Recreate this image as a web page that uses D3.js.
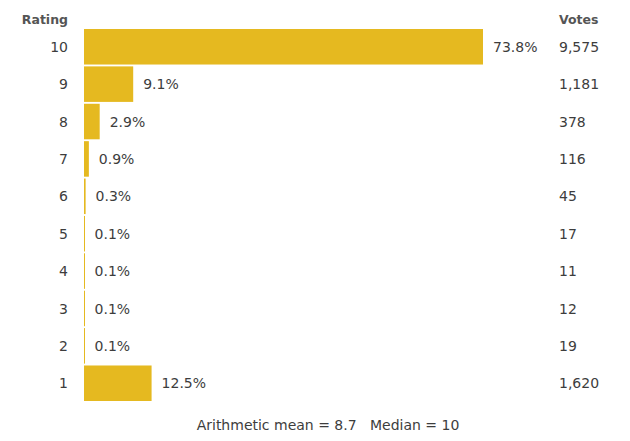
<!DOCTYPE html>
<html><head><meta charset="utf-8">
<script src="https://cdn.jsdelivr.net/npm/d3@7"></script>
<style>body{margin:0;background:#fff}svg{display:block}</style>
</head><body>
<svg id="c" width="630" height="441"></svg>
<script>
const ratings = ["10","9","8","7","6","5","4","3","2","1"];
const percents = [73.8, 9.1, 2.9, 0.9, 0.3, 0.1, 0.1, 0.1, 0.1, 12.5];
const votes = [9575, 1181, 378, 116, 45, 17, 11, 12, 19, 1620];
const meanText = "Arithmetic mean = 8.7";
const medianText = "Median = 10";

const svg = d3.select("#c");
const font = "DejaVu Sans, Verdana, sans-serif";
const x = d3.scaleLinear().domain([0, d3.max(percents)]).range([84, 483]);
const y = d3.scaleBand().domain(ratings).range([29, 401]).paddingInner(0.05).paddingOuter(0);

const rows = ratings.map((r,i)=>({r, p: percents[i], v: votes[i]}));

svg.append("g").selectAll("rect").data(rows).join("rect")
  .attr("x", x(0)).attr("y", d=>y(d.r))
  .attr("width", d=>Math.max(x(d.p)-x(0), 1)).attr("height", y.bandwidth())
  .attr("fill", "#E5B920");

const txt = (sel)=>sel.attr("font-family", font).attr("font-size", 14).attr("fill", "#3d3d3d");

svg.append("g").selectAll("text").data(rows).join("text")
  .call(txt).attr("x", 68).attr("y", d=>y(d.r)+y.bandwidth()/2).attr("dy","0.36em")
  .attr("text-anchor","end").text(d=>d.r);

svg.append("g").selectAll("text").data(rows).join("text")
  .call(txt).attr("x", d=>x(d.p)+10).attr("y", d=>y(d.r)+y.bandwidth()/2).attr("dy","0.36em")
  .text(d=>d3.format(".1f")(d.p)+"%");

svg.append("g").selectAll("text").data(rows).join("text")
  .call(txt).attr("x", 559).attr("y", d=>y(d.r)+y.bandwidth()/2).attr("dy","0.36em")
  .text(d=>d3.format(",")(d.v));

svg.append("text").attr("x",68).attr("y",24).attr("text-anchor","end")
  .attr("font-family",font).attr("font-size",12.5).attr("font-weight","bold").attr("fill","#555").text("Rating");
svg.append("text").attr("x",559).attr("y",24)
  .attr("font-family",font).attr("font-size",12.5).attr("font-weight","bold").attr("fill","#555").text("Votes");

svg.append("text").call(txt).attr("x",328).attr("y",430).attr("text-anchor","middle")
  .attr("xml:space","preserve").text(meanText + "\u00a0\u00a0\u00a0" + medianText);
</script>
</body></html>
